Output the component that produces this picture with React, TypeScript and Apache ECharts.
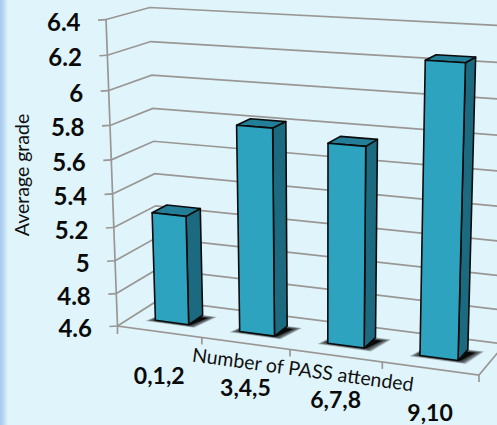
import React, { useEffect, useRef } from "react";
import * as echarts from "echarts";

const categories = ["0,1,2", "3,4,5", "6,7,8", "9,10"];
const grades = [5.26, 5.82, 5.76, 6.25];
const tickValues = [4.6, 4.8, 5, 5.2, 5.4, 5.6, 5.8, 6, 6.2, 6.4];
const tickLabels = ["4.6", "4.8", "5", "5.2", "5.4", "5.6", "5.8", "6", "6.2", "6.4"];
const yTitle = "Average grade";
const xTitle = "Number of PASS attended";

const W = 497;
const H = 425;
const FONT = "Lato, Carlito, 'Open Sans', sans-serif";
const GRID = "#9a9694";
const BG = "#dff5fb";

// Homogeneous projection of the skewed 3D box: origin + u*U + d*D + v*V
const O = [117.5, 326, 1];
const U = [319.8, 16.4, -0.087];
const D = [48.9, -11, 0.05];
const V = [-17.1, -307.5, -0.053];
const project = (u: number, d: number, v: number) => {
  const h = [0, 1, 2].map((i) => O[i] + u * U[i] + d * D[i] + v * V[i]);
  return [h[0] / h[2], h[1] / h[2]];
};

const uOf = (api: any, x: number) => api.coord([x, 4.6])[0] / W;
const vOf = (api: any, val: number) => 1 - api.coord([0, val])[1] / H;

const lineStyle = { stroke: GRID, lineWidth: 1.7, fill: "none" };
const edge = { stroke: "#0b0b0b", lineWidth: 1.6, lineJoin: "round" };

const renderGrid = (_p: any, api: any) => {
  const t = api.value(1);
  const v = vOf(api, t);
  const a = project(0, 0, v);
  const b = project(0, 1, v);
  const c = project(1, 1, v);
  return {
    type: "group",
    children: [
      { type: "polyline", shape: { points: [a, b, c] }, style: lineStyle },
      { type: "line", shape: { x1: a[0] - 8, y1: a[1] + 0.5, x2: a[0], y2: a[1] }, style: lineStyle },
      {
        type: "text",
        x: a[0] - 25.5,
        y: a[1] + 1.5,
        style: {
          text: tickLabels[tickValues.indexOf(t)],
          align: "right",
          verticalAlign: "middle",
          fontFamily: FONT,
          fontWeight: "bold",
          fontSize: 24,
          fill: "#0a0a0a",
        },
      },
    ],
  };
};

const renderFrame = (_p: any, api: any) => {
  const b0 = project(0, 0, 0);
  const b1 = project(1, 0, 0);
  const b2 = project(1, 1, 0);
  const t0 = project(0, 0, 1);
  return {
    type: "group",
    children: [
      { type: "polyline", shape: { points: [t0, b0, b1, b2] }, style: lineStyle },
      { type: "line", shape: { x1: b0[0], y1: b0[1], x2: b0[0], y2: b0[1] + 8 }, style: lineStyle },
    ],
  };
};

const renderBar = (_p: any, api: any) => {
  const i = api.value(0);
  const val = api.value(1);
  const cx = api.coord([i, val])[0];
  const bw = api.size([1, 0])[0];
  const u0 = (cx - bw * 0.2) / W - 0.002;
  const u1 = (cx + bw * 0.2) / W - 0.002;
  const d0 = 0.33;
  const d1 = 0.69;
  const v = vOf(api, val);
  const uC = uOf(api, i);
  const fl = project(u0, d0, 0);
  const fr = project(u1, d0, 0);
  const br = project(u1, d1, 0);
  const ftl = project(u0, d0, v);
  const ftr = project(u1, d0, v);
  const btr = project(u1, d1, v);
  const btl = project(u0, d1, v);

  // soft contact shadow on the floor, built from stacked translucent polygons
  const shadowLayers: any[] = [0, 1, 2, 3, 4, 5, 6].map((k) => {
    const e = 6 - k;
    return {
      type: "polygon",
      shape: {
        points: [
          project(u0 - 0.004 - e * 0.0032, d0 + 0.01 - e * 0.012, 0),
          project(u1 + 0.006 + e * 0.0032, d0 - e * 0.012, 0),
          project(u1 + 0.024 + e * 0.0032, d1 - 0.07 + e * 0.012, 0),
          project(u0, d1 - 0.07 + e * 0.012, 0),
        ],
      },
      style: { fill: k === 6 ? "rgba(0,0,0,0.85)" : "rgba(0,0,0,0.2)", stroke: "none" },
    };
  });

  const tickR = project((cx + bw / 2) / W, 0, 0);
  const lab = project(uC, 0, 0);

  const children: any[] = [
    ...shadowLayers,
    { type: "polygon", shape: { points: [fr, br, btr, ftr] }, style: { fill: "#1c6a80", ...edge } },
    { type: "polygon", shape: { points: [ftl, ftr, btr, btl] }, style: { fill: "#237e98", ...edge } },
    { type: "polygon", shape: { points: [fl, fr, ftr, ftl] }, style: { fill: "#2ea3c0", ...edge } },
    {
      type: "line",
      shape: { x1: tickR[0], y1: tickR[1], x2: tickR[0], y2: tickR[1] + 7 },
      style: lineStyle,
    },
    {
      type: "text",
      x: lab[0],
      y: lab[1] + 43.5,
      style: {
        text: categories[i],
        align: "center",
        verticalAlign: "middle",
        fontFamily: FONT,
        fontWeight: "bold",
        fontSize: 23,
        fill: "#0a0a0a",
      },
    },
  ];
  return { type: "group", children };
};

export default function App() {
  const ref = useRef<HTMLDivElement>(null);
  useEffect(() => {
    const chart = echarts.init(ref.current!, undefined, { renderer: "svg" });
    chart.setOption({
      animation: false,
      backgroundColor: BG,
      grid: { left: 0, right: 0, top: 0, bottom: 0 },
      xAxis: { type: "category", data: categories, show: false },
      yAxis: { type: "value", min: 4.6, max: 6.4, interval: 0.2, show: false },
      graphic: [
        {
          type: "rect",
          shape: { x: 0, y: 0, width: 8, height: H },
          style: {
            fill: new echarts.graphic.LinearGradient(0, 0, 1, 0, [
              { offset: 0, color: "#a6c8ee" },
              { offset: 0.35, color: "#b4d4f0" },
              { offset: 1, color: BG },
            ]),
          },
          silent: true,
        },
        {
          type: "text",
          x: 21,
          y: 175,
          rotation: Math.PI / 2,
          style: {
            text: yTitle,
            align: "center",
            verticalAlign: "middle",
            fontFamily: FONT,
            fontSize: 19.5,
            fill: "#111",
          },
          z: 10,
        },
        {
          type: "text",
          x: 303,
          y: 369,
          rotation: -0.135,
          style: {
            text: xTitle,
            align: "center",
            verticalAlign: "middle",
            fontFamily: FONT,
            fontSize: 19.5,
            fill: "#111",
          },
          z: 10,
        },
      ],
      series: [
        { type: "custom", silent: true, z: 2, renderItem: renderGrid, data: tickValues.map((t) => [0, t]) },
        { type: "custom", silent: true, z: 3, renderItem: renderFrame, data: [[0, 4.6]] },
        { type: "custom", silent: true, z: 4, renderItem: renderBar, data: categories.map((_, i) => [i, grades[i]]) },
      ],
    });
    return () => chart.dispose();
  }, []);
  return <div ref={ref} style={{ position: "fixed", left: 0, top: 0, width: W, height: H }} />;
}
